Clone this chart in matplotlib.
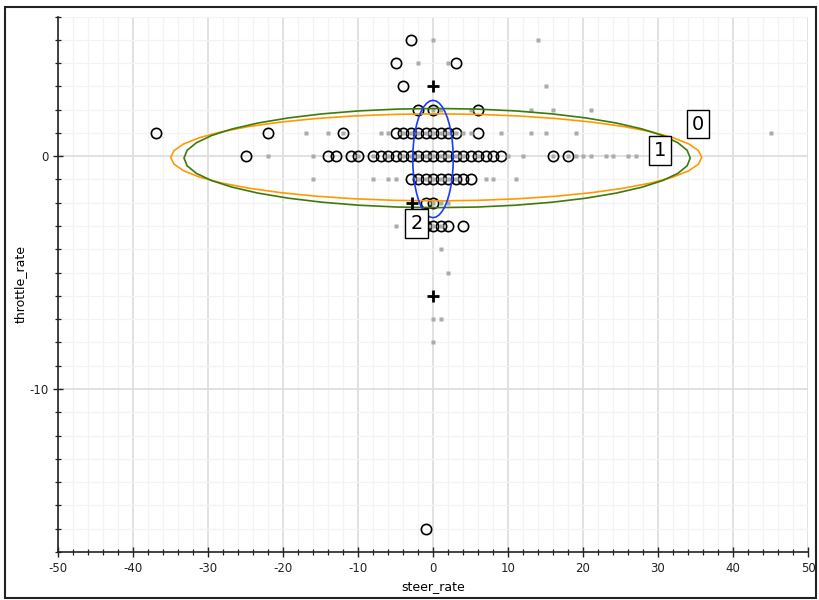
import numpy as np
import matplotlib
matplotlib.use("Agg")
import matplotlib.pyplot as plt
from matplotlib.ticker import MultipleLocator
from matplotlib.patches import Rectangle, Polygon

plt.rcParams["axes.unicode_minus"] = False

# ---------------- data ----------------
# open circles (subset of observations)
circle_x = [-3,
            -5, 3,
            -4,
            -2, 0, 6,
            -37, -22, -12, -5, -4, -3, -2, -1, 0, 1, 2, 3, 6,
            -25, -14, -13, -11, -10, -8, -7, -6, -5, -4, -3, -2, -1, 0, 1, 2, 3, 4, 5, 6, 7, 8, 9, 16, 18,
            -3, -2, -1, 0, 1, 2, 3, 4, 5,
            -1, 0,
            -1, 0, 1, 2, 4,
            -1]
circle_y = [5,
            4, 4,
            3,
            2, 2, 2,
            1, 1, 1, 1, 1, 1, 1, 1, 1, 1, 1, 1, 1,
            0, 0, 0, 0, 0, 0, 0, 0, 0, 0, 0, 0, 0, 0, 0, 0, 0, 0, 0, 0, 0, 0, 0, 0, 0,
            -1, -1, -1, -1, -1, -1, -1, -1, -1,
            -2, -2,
            -3, -3, -3, -3, -3,
            -16]

# small grey squares (all observations)
grey_x = [0, 14,
          -2, 2,
          15,
          0, 1, 5, 13, 16, 21,
          -17, -14, -12, -7, -6, -4, -3, -2, -1, 0, 1, 2, 3, 4, 5, 9, 13, 15, 19, 45,
          -22, -16, -10, -8, -6, -4, -3, -2, -1, 0, 1, 2, 3, 4, 6, 10, 12, 16, 18, 19, 20, 21, 23, 24, 26, 27,
          -16, -8, -6, -5, -2, -1, 0, 1, 2, 3, 7, 8, 11,
          0, 1, 2,
          -5, 0, 1,
          1,
          2,
          0, 1,
          0]
grey_y = [5, 5,
          4, 4,
          3,
          2, 2, 2, 2, 2, 2,
          1, 1, 1, 1, 1, 1, 1, 1, 1, 1, 1, 1, 1, 1, 1, 1, 1, 1, 1, 1,
          0, 0, 0, 0, 0, 0, 0, 0, 0, 0, 0, 0, 0, 0, 0, 0, 0, 0, 0, 0, 0, 0, 0, 0, 0, 0,
          -1, -1, -1, -1, -1, -1, -1, -1, -1, -1, -1, -1, -1,
          -2, -2, -2,
          -3, -3, -3,
          -4,
          -5,
          -7, -7,
          -8]

# plus markers (centres)
plus_x = [0, 0, -2.8]
plus_y = [3, -6, -2]

# ellipses: label, centre x, centre y, half-width, half-height, colour
ell_labels = ["0", "1", "2"]
ell_cx = [0.43, 0.55, 0.0]
ell_cy = [-0.05, -0.08, -0.12]
ell_rx = [35.4, 33.75, 2.7]
ell_ry = [1.87, 2.13, 2.52]
ell_colors = ["#ff9900", "#3d7a0c", "#1a3cff"]
label_x = [35.3, 30.3, -2.2]
label_y = [1.38, 0.25, -2.9]

# ---------------- figure ----------------
fig = plt.figure(figsize=(8.19, 6.0), dpi=100)
ax = fig.add_axes([58/819, 48/600, 750/819, 535.5/600])

ax.set_xlim(-50, 50)
ax.set_ylim(-17, 6)
ax.xaxis.set_major_locator(MultipleLocator(10))
ax.xaxis.set_minor_locator(MultipleLocator(2))
ax.yaxis.set_major_locator(MultipleLocator(10))
ax.yaxis.set_minor_locator(MultipleLocator(1))

ax.grid(which="major", color="#dedede", lw=1.3, zorder=0)
ax.grid(which="minor", color="#f3f3f3", lw=0.9, zorder=0)
ax.set_axisbelow(True)

for s in ["top", "right"]:
    ax.spines[s].set_visible(False)
for s in ["left", "bottom"]:
    ax.spines[s].set_linewidth(1.2)
    ax.spines[s].set_color("#222222")

ax.tick_params(which="major", direction="inout", length=7, width=1.0, labelsize=8.5, colors="#222222")
ax.tick_params(which="minor", direction="inout", length=5, width=0.9, colors="#222222")

ax.set_xlabel("steer_rate", fontsize=9, labelpad=4)
ax.set_ylabel("throttle_rate", fontsize=9, labelpad=2)

# circles
ax.plot(circle_x, circle_y, ls="none", marker="o", ms=7.4, mfc="none",
        mec="black", mew=1.2, zorder=3)
# grey squares
ax.plot(grey_x, grey_y, ls="none", marker="s", ms=3.3, mfc="#ababab",
        mec="none", zorder=4)

# ellipses (polygonal outline)
t = np.linspace(0, 2 * np.pi, 41)
for lab, cx, cy, rx, ry, c in zip(ell_labels, ell_cx, ell_cy, ell_rx, ell_ry, ell_colors):
    pts = np.column_stack([cx + rx * np.cos(t), cy + ry * np.sin(t)])
    ax.add_patch(Polygon(pts, closed=True, fill=False, edgecolor=c, lw=1.2, zorder=5))

# plus markers
ax.plot(plus_x, plus_y, ls="none", marker="+", ms=8, mew=2.0, color="black", zorder=6)

# labels
for lab, lx, ly in zip(ell_labels, label_x, label_y):
    ax.text(lx, ly, lab, fontsize=14, ha="center", va="center", zorder=7,
            bbox=dict(boxstyle="square,pad=0.25", fc="white", ec="black", lw=1.0))

# figure border
fig.patches.append(Rectangle((5/819, 2/600), 811/819, 591/600, transform=fig.transFigure,
                             fill=False, ec="#222222", lw=1.5))

fig.savefig("out.png", dpi=100)
